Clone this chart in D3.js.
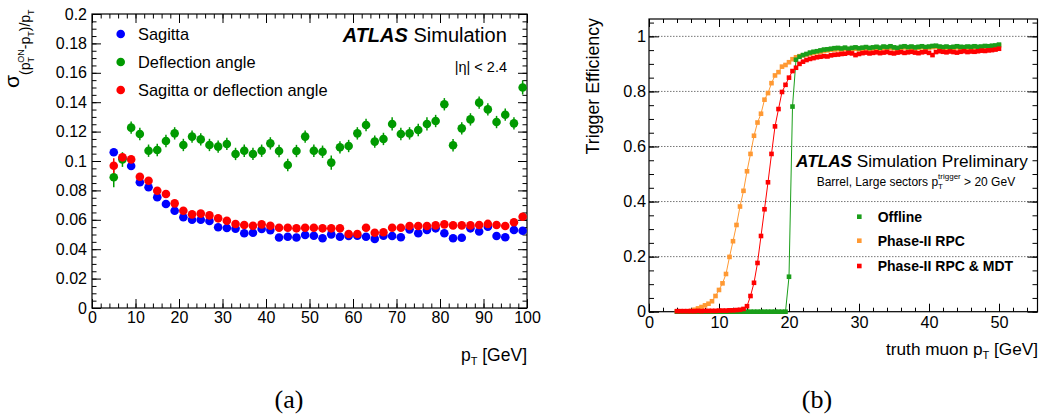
<!DOCTYPE html>
<html>
<head>
<meta charset="utf-8">
<script src="https://cdn.jsdelivr.net/npm/d3@7"></script>
<style>
  body { margin: 0; background: #fff; }
  svg text { font-family: "Liberation Sans", Arial, Helvetica, sans-serif; fill: #000; }
  .caption { font-family: "Liberation Serif", "Times New Roman", serif; }
</style>
</head>
<body>
<svg id="chart" width="1041" height="419"></svg>
<script>
// PANEL (a) DATA: resolution vs pT
// ----------------------------------------
const PT_A = [5, 7, 9, 11, 13, 15, 17, 19, 21, 23, 25, 27, 29, 31, 33, 35, 37, 39, 41, 43,
    45, 47, 49, 51, 53, 55, 57, 59, 61, 63, 65, 67, 69, 71, 73, 75, 77, 79, 81, 83,
    85, 87, 89, 91, 93, 95, 97, 99];

const SAGITTA = [0.106, 0.102, 0.0966, 0.0855, 0.0821, 0.0753, 0.0707, 0.0662, 0.0617, 0.0600,
    0.0600, 0.0592, 0.0549, 0.0544, 0.0540, 0.0508, 0.0512, 0.0537, 0.0530, 0.0480,
    0.0485, 0.0480, 0.0497, 0.0492, 0.0474, 0.0501, 0.0485, 0.0490, 0.0492, 0.0485,
    0.0470, 0.0492, 0.0490, 0.0481, 0.0535, 0.0508, 0.0531, 0.0542, 0.0508, 0.0474,
    0.0478, 0.0542, 0.0520, 0.0553, 0.0490, 0.0481, 0.0531, 0.0526];

const DEFLECTION = [0.0889, 0.101, 0.1227, 0.1184, 0.107, 0.1075, 0.1136, 0.1188, 0.1109, 0.1166,
    0.1147, 0.1109, 0.1098, 0.1116, 0.1048, 0.107, 0.1048, 0.107, 0.112, 0.1068,
    0.0973, 0.1068, 0.1166, 0.107, 0.1063, 0.0989, 0.1093, 0.1102, 0.1188, 0.1245,
    0.1132, 0.115, 0.1252, 0.1184, 0.1188, 0.1211, 0.1252, 0.1272, 0.1386, 0.1107,
    0.1222, 0.1283, 0.1397, 0.1351, 0.1265, 0.1315, 0.1256, 0.150];

const DEFLECTION_ERR = [0.0068, 0.005, 0.0042, 0.0042, 0.0042, 0.0042, 0.0042, 0.0042, 0.0042, 0.0042,
    0.0042, 0.0042, 0.0042, 0.0042, 0.0042, 0.0042, 0.0042, 0.0042, 0.0042, 0.0042,
    0.0042, 0.0042, 0.0042, 0.0042, 0.0042, 0.0048, 0.0042, 0.0042, 0.0042, 0.0042,
    0.0042, 0.0042, 0.0045, 0.0042, 0.0042, 0.0042, 0.0045, 0.0042, 0.0042, 0.0042,
    0.0042, 0.0042, 0.0042, 0.0042, 0.0042, 0.0042, 0.0042, 0.0048];

const SAG_OR_DEFL = [0.0968, 0.1025, 0.1011, 0.0893, 0.0866, 0.0798, 0.0776, 0.0712, 0.0662, 0.0637,
    0.0642, 0.0630, 0.0610, 0.0594, 0.0571, 0.0565, 0.0560, 0.0569, 0.0560, 0.0546,
    0.0546, 0.0542, 0.0546, 0.0546, 0.0542, 0.0542, 0.0542, 0.0503, 0.0503, 0.0546,
    0.0512, 0.0515, 0.0546, 0.0546, 0.0558, 0.0558, 0.0558, 0.0562, 0.0569, 0.0562,
    0.0562, 0.0562, 0.0565, 0.0572, 0.0565, 0.0558, 0.0583, 0.0621];

const SAG_OR_DEFL_ERR = [0.0051, 0.002, 0.0015, 0.001, 0.001, 0.001, 0.001, 0.001, 0.001, 0.001,
    0.001, 0.001, 0.001, 0.001, 0.001, 0.001, 0.001, 0.001, 0.001, 0.001,
    0.001, 0.001, 0.001, 0.001, 0.001, 0.001, 0.001, 0.001, 0.001, 0.001,
    0.001, 0.001, 0.001, 0.001, 0.001, 0.001, 0.001, 0.001, 0.001, 0.001,
    0.001, 0.001, 0.001, 0.001, 0.001, 0.001, 0.001, 0.0015];

const A_X_TICKS = [0, 10, 20, 30, 40, 50, 60, 70, 80, 90, 100];
const A_Y_TICKS = [0, 0.02, 0.04, 0.06, 0.08, 0.1, 0.12, 0.14, 0.16, 0.18, 0.2];
const A_LEGEND = ["Sagitta", "Deflection angle", "Sagitta or deflection angle"];

// PANEL (b) DATA: trigger efficiency vs truth muon pT
// ----------------------------------------
const PT_B = [4, 4.5, 5, 5.5, 6, 6.5, 7, 7.5, 8, 8.5, 9, 9.5, 10, 10.5, 11, 11.5, 12, 12.5, 13, 13.5,
    14, 14.5, 15, 15.5, 16, 16.5, 17, 17.5, 18, 18.5, 19, 19.5, 20, 20.5, 21, 21.5, 22, 22.5, 23, 23.5,
    24, 24.5, 25, 25.5, 26, 26.5, 27, 27.5, 28, 28.5, 29, 29.5, 30, 30.5, 31, 31.5, 32, 32.5, 33, 33.5,
    34, 34.5, 35, 35.5, 36, 36.5, 37, 37.5, 38, 38.5, 39, 39.5, 40, 40.5, 41, 41.5, 42, 42.5, 43, 43.5,
    44, 44.5, 45, 45.5, 46, 46.5, 47, 47.5, 48, 48.5, 49, 49.5, 50];

const EFF_OFFLINE = [0, 0, 0, 0, 0, 0, 0, 0, 0, 0, 0, 0, 0, 0, 0, 0, 0, 0, 0, 0,
    0, 0, 0, 0, 0, 0, 0, 0, 0, 0, 0, 0, 0.127, 0.745, 0.915, 0.926, 0.932, 0.936, 0.941, 0.944,
    0.946, 0.949, 0.952, 0.953, 0.955, 0.957, 0.958, 0.956, 0.959, 0.955, 0.958, 0.960, 0.957, 0.959, 0.961, 0.958, 0.960, 0.962, 0.959, 0.963,
    0.961, 0.964, 0.960, 0.958, 0.962, 0.964, 0.961, 0.963, 0.960, 0.962, 0.964, 0.961, 0.963, 0.965, 0.966, 0.963, 0.961, 0.963, 0.960, 0.962,
    0.964, 0.962, 0.961, 0.963, 0.962, 0.964, 0.962, 0.963, 0.965, 0.964, 0.966, 0.967, 0.970];

const EFF_RPC = [0, 0, 0, 0.001, 0.003, 0.007, 0.012, 0.017, 0.023, 0.029, 0.038, 0.057, 0.079, 0.103, 0.137, 0.199, 0.256, 0.315, 0.382, 0.439,
    0.510, 0.573, 0.639, 0.687, 0.719, 0.770, 0.794, 0.830, 0.858, 0.870, 0.890, 0.896, 0.906, 0.917, 0.924, 0.928, 0.931, 0.934, 0.937, 0.940,
    0.942, 0.944, 0.947, 0.949, 0.951, 0.952, 0.953, 0.952, 0.955, 0.952, 0.954, 0.955, 0.953, 0.955, 0.957, 0.954, 0.956, 0.958, 0.955, 0.958,
    0.957, 0.959, 0.956, 0.955, 0.958, 0.960, 0.957, 0.959, 0.956, 0.958, 0.960, 0.957, 0.959, 0.961, 0.962, 0.959, 0.957, 0.959, 0.956, 0.958,
    0.960, 0.958, 0.957, 0.959, 0.958, 0.960, 0.958, 0.959, 0.961, 0.960, 0.962, 0.963, 0.966];

const EFF_RPC_MDT = [0.002, 0.002, 0.002, 0.002, 0.002, 0.002, 0.003, 0.002, 0.003, 0.003, 0.003, 0.003, 0.004, 0.004, 0.004, 0.005, 0.005, 0.006, 0.007, 0.010,
    0.020, 0.057, 0.105, 0.177, 0.275, 0.372, 0.470, 0.573, 0.673, 0.736, 0.798, 0.824, 0.850, 0.874, 0.886, 0.900, 0.908, 0.914, 0.918, 0.921,
    0.924, 0.926, 0.928, 0.927, 0.931, 0.933, 0.934, 0.936, 0.937, 0.940, 0.938, 0.932, 0.936, 0.939, 0.941, 0.938, 0.940, 0.942, 0.939, 0.941,
    0.943, 0.940, 0.938, 0.941, 0.943, 0.940, 0.942, 0.944, 0.941, 0.939, 0.942, 0.944, 0.940, 0.932, 0.943, 0.946, 0.944, 0.942, 0.945, 0.943,
    0.941, 0.944, 0.946, 0.943, 0.945, 0.944, 0.946, 0.948, 0.947, 0.949, 0.950, 0.952, 0.955];

const B_X_TICKS = [0, 10, 20, 30, 40, 50];
const B_Y_TICKS = [0, 0.2, 0.4, 0.6, 0.8, 1];
const B_LEGEND = ["Offline", "Phase-II RPC", "Phase-II RPC & MDT"];

// STYLE
// ----------------------------------------
const BLUE = "#0000ff";
const GREEN_A = "#009a00";
const RED = "#ff0000";
const GREEN_B = "#1a9e1a";
const ORANGE = "#ff9933";

const svg = d3.select("#chart");
svg.append("rect").attr("width", 1041).attr("height", 419).attr("fill", "#fff");

// HELPERS
// ----------------------------------------
function styleAxis(g, fontSize) {
    g.select(".domain").remove();
    g.selectAll("line").attr("stroke", "#000").attr("stroke-width", 1);
    g.selectAll("text")
        .attr("font-family", "'Liberation Sans', Arial, sans-serif")
        .attr("font-size", fontSize)
        .attr("fill", "#000");
}

// draws the frame and inward ticks on all four sides
function drawFrame(x, y, opt) {
    const [xl, xr] = x.range();
    const [yb, yt] = y.range();
    const frame = svg.append("g");

    const sides = [
        { axis: d3.axisBottom, scale: x, pos: `translate(0,${yb})`, labels: true, len: opt.xLen, vals: opt.xMajor, minor: opt.xMinor, fmt: opt.xFmt, pad: opt.xPad },
        { axis: d3.axisTop, scale: x, pos: `translate(0,${yt})`, labels: false, len: opt.xLen, vals: opt.xMajor, minor: opt.xMinor },
        { axis: d3.axisLeft, scale: y, pos: `translate(${xl},0)`, labels: true, len: opt.yLen, vals: opt.yMajor, minor: opt.yMinor, fmt: opt.yFmt, pad: opt.yPad },
        { axis: d3.axisRight, scale: y, pos: `translate(${xr},0)`, labels: false, len: opt.yLen, vals: opt.yMajor, minor: opt.yMinor }
    ];

    sides.forEach(s => {
        frame.append("g").attr("transform", s.pos)
            .call(s.axis(s.scale).tickValues(s.minor).tickSize(-s.len / 2).tickFormat(""))
            .call(g => styleAxis(g, opt.fontSize));
        frame.append("g").attr("transform", s.pos)
            .call(s.axis(s.scale).tickValues(s.vals).tickSize(-s.len)
                .tickPadding(s.pad || 3)
                .tickFormat(s.labels ? s.fmt : ""))
            .call(g => styleAxis(g, opt.fontSize));
    });

    frame.append("rect")
        .attr("x", xl).attr("y", yt)
        .attr("width", xr - xl).attr("height", yb - yt)
        .attr("fill", "none").attr("stroke", "#000").attr("stroke-width", 1.2);
}

const fmtNum = d => String(+d.toFixed(3));

// PANEL (a)
// ----------------------------------------
function drawPanelA() {
    const x = d3.scaleLinear().domain([0, 100]).range([92, 527]);
    const y = d3.scaleLinear().domain([0, 0.2]).range([308, 14]);

    drawFrame(x, y, {
        xMajor: A_X_TICKS, xMinor: d3.range(0, 101, 2), xLen: 9, xPad: 4, xFmt: fmtNum,
        yMajor: A_Y_TICKS, yMinor: d3.range(0, 0.2001, 0.005), yLen: 9, yPad: 5, yFmt: fmtNum,
        fontSize: 16
    });

    const series = [
        { vals: SAGITTA, err: null, color: BLUE },
        { vals: DEFLECTION, err: DEFLECTION_ERR, color: GREEN_A },
        { vals: SAG_OR_DEFL, err: SAG_OR_DEFL_ERR, color: RED }
    ];

    series.forEach(s => {
        const g = svg.append("g");
        if (s.err) {
            g.selectAll("line").data(PT_A).enter().append("line")
                .attr("x1", d => x(d)).attr("x2", d => x(d))
                .attr("y1", (d, i) => y(s.vals[i] - s.err[i]))
                .attr("y2", (d, i) => y(s.vals[i] + s.err[i]))
                .attr("stroke", s.color).attr("stroke-width", 1.5);
        }
        g.selectAll("circle").data(PT_A).enter().append("circle")
            .attr("cx", d => x(d))
            .attr("cy", (d, i) => y(s.vals[i]))
            .attr("r", 4.3)
            .attr("fill", s.color);
    });

    // legend
    const legendColors = [BLUE, GREEN_A, RED];
    A_LEGEND.forEach((label, i) => {
        const cy = 34 + i * 28;
        svg.append("circle").attr("cx", 120.7).attr("cy", cy).attr("r", 4.3).attr("fill", legendColors[i]);
        svg.append("text").attr("x", 138).attr("y", cy + 5.8).attr("font-size", 16.4).text(label);
    });

    const atlas = svg.append("text").attr("x", 342.7).attr("y", 41.7).attr("font-size", 20);
    atlas.append("tspan").attr("font-weight", "bold").attr("font-style", "italic").text("ATLAS");
    atlas.append("tspan").text(" Simulation");

    svg.append("text").attr("x", 507).attr("y", 71.7).attr("font-size", 14.5)
        .attr("text-anchor", "end").text("|η| < 2.4");

    // y title: sigma_{(pT^ON - pT)/pT}
    const yt = svg.append("text").attr("transform", "translate(19,88) rotate(-90)").attr("font-size", 21);
    yt.append("tspan").text("σ");
    yt.append("tspan").attr("dy", 11).attr("font-size", 14).text("(p");
    yt.append("tspan").attr("dy", 4).attr("font-size", 9).text("T");
    yt.append("tspan").attr("dx", -5.5).attr("dy", -10).attr("font-size", 9).text("ON");
    yt.append("tspan").attr("dy", 6).attr("font-size", 14).text("-p");
    yt.append("tspan").attr("dy", 4).attr("font-size", 9).text("T");
    yt.append("tspan").attr("dy", -4).attr("font-size", 14).text(")/p");
    yt.append("tspan").attr("dy", 4).attr("font-size", 9).text("T");

    // x title
    const xt = svg.append("text").attr("x", 527).attr("y", 361).attr("font-size", 17.5).attr("text-anchor", "end");
    xt.append("tspan").text("p");
    xt.append("tspan").attr("dy", 4).attr("font-size", 11).text("T");
    xt.append("tspan").attr("dy", -4).text(" [GeV]");
}

// PANEL (b)
// ----------------------------------------
function drawPanelB() {
    const x = d3.scaleLinear().domain([0, 55.5]).range([649, 1037.5]);
    const y = d3.scaleLinear().domain([0, 1.063]).range([311.7, 19]);

    // dotted grid
    svg.append("g").selectAll("line").data(B_Y_TICKS.filter(d => d > 0)).enter().append("line")
        .attr("x1", 649).attr("x2", 1037.5)
        .attr("y1", d => y(d)).attr("y2", d => y(d))
        .attr("stroke", "#777").attr("stroke-width", 1).attr("stroke-dasharray", "1.5,1.5");

    drawFrame(x, y, {
        xMajor: B_X_TICKS, xMinor: d3.range(0, 55.1, 2), xLen: 8, xPad: 5, xFmt: fmtNum,
        yMajor: B_Y_TICKS, yMinor: d3.range(0, 1.06, 0.05), yLen: 10, yPad: 3, yFmt: fmtNum,
        fontSize: 16.3
    });

    const series = [
        { vals: EFF_RPC, color: ORANGE },
        { vals: EFF_OFFLINE, color: GREEN_B },
        { vals: EFF_RPC_MDT, color: RED }
    ];
    const line = d3.line().x(d => x(d[0])).y(d => y(d[1]));
    const sq = 4.6;

    series.forEach(s => {
        const pts = PT_B.map((d, i) => [d, s.vals[i]]);
        const g = svg.append("g");
        g.append("path").attr("d", line(pts))
            .attr("fill", "none").attr("stroke", s.color).attr("stroke-width", 1);
        g.selectAll("rect").data(pts).enter().append("rect")
            .attr("x", d => x(d[0]) - sq / 2)
            .attr("y", d => y(d[1]) - sq / 2)
            .attr("width", sq).attr("height", sq)
            .attr("fill", s.color);
    });

    const atlas = svg.append("text").attr("x", 796).attr("y", 166.7).attr("font-size", 17.2);
    atlas.append("tspan").attr("font-weight", "bold").attr("font-style", "italic").text("ATLAS");
    atlas.append("tspan").text(" Simulation Preliminary");

    const sub = svg.append("text").attr("x", 816.7).attr("y", 185.7).attr("font-size", 12);
    sub.append("tspan").text("Barrel, Large sectors p");
    sub.append("tspan").attr("dy", 3).attr("font-size", 8).text("T");
    sub.append("tspan").attr("dx", -4.9).attr("dy", -10).attr("font-size", 8).text("trigger");
    sub.append("tspan").attr("dy", 7).text(" > 20 GeV");

    const legendColors = [GREEN_B, ORANGE, RED];
    const legendY = [216.7, 240.7, 266];
    B_LEGEND.forEach((label, i) => {
        svg.append("rect").attr("x", 859.3 - sq / 2).attr("y", legendY[i] - sq / 2)
            .attr("width", sq).attr("height", sq).attr("fill", legendColors[i]);
        svg.append("text").attr("x", 877.7).attr("y", legendY[i] + 5.2)
            .attr("font-size", 14).attr("font-weight", "bold").text(label);
    });

    svg.append("text").attr("transform", "translate(599,18) rotate(-90)")
        .attr("font-size", 17.8).attr("text-anchor", "end").text("Trigger Efficiency");

    const xt = svg.append("text").attr("x", 1038).attr("y", 355).attr("font-size", 17.2).attr("text-anchor", "end");
    xt.append("tspan").text("truth muon p");
    xt.append("tspan").attr("dy", 4).attr("font-size", 11).text("T");
    xt.append("tspan").attr("dy", -4).text(" [GeV]");
}

// CAPTIONS
// ----------------------------------------
function drawCaptions() {
    svg.append("text").attr("class", "caption").attr("x", 289).attr("y", 408)
        .attr("font-size", 26).attr("text-anchor", "middle").text("(a)");
    svg.append("text").attr("class", "caption").attr("x", 817).attr("y", 408)
        .attr("font-size", 26).attr("text-anchor", "middle").text("(b)");
}

// INIT
// ----------------------------------------
drawPanelA();
drawPanelB();
drawCaptions();
</script>
</body>
</html>
